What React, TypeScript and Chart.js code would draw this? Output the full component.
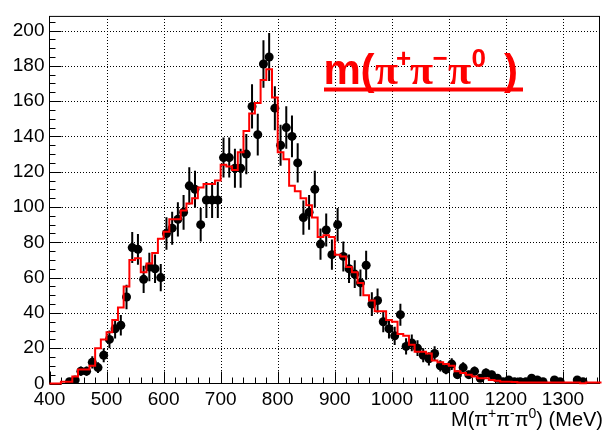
import React, { useEffect, useRef } from "react";
import { Chart, registerables } from "chart.js";

Chart.register(...registerables);

// Histogram binning in MeV: 10 MeV bins starting at 400 MeV
const BIN_START = 400;
const BIN_WIDTH = 10;

// Observed events per bin (bin centres 405, 415, ... 1365 MeV)
const dataCounts = [
  0, 0, 0, 1, 2, 7, 7, 12, 9, 16,
  25, 31, 33, 49, 77, 76, 59, 66, 65, 60,
  85, 88, 93, 97, 112, 110, 90, 104, 104, 104,
  128, 128, 122, 122, 130, 157, 141, 181, 185, 156,
  135, 145, 140, 125, 94, 97, 110, 79, 87, 73,
  90, 72, 65, 62, 57, 67, 45, 47, 35, 31,
  27, 39, 21, 23, 20, 16, 14, 17, 10, 8,
  11, 5, 9, 5, 7, 3, 6, 5, 3, 1,
  2, 1, 1, 1, 3, 2, 1, 0, 2, 1,
  0, 0, 2, 1, 0, 0, 0,
];

// Simulated spectrum, same binning
const mcCounts = [
  0, 0, 1, 1, 4, 8, 8, 10, 20, 25,
  29, 36, 43, 55, 70, 71, 63, 68, 74, 82,
  86, 93, 93, 98, 102, 105, 111, 113, 113, 115,
  124, 123, 121, 131, 143, 153, 159, 172, 178, 162,
  131, 127, 112, 109, 105, 101, 94, 83, 84, 83,
  73, 72, 66, 63, 57, 50, 47, 41, 41, 36,
  35, 28, 27, 22, 18, 18, 17, 13, 12, 11,
  10, 7, 6, 5, 4, 3, 3, 2, 1.5, 1,
  1, 0.8, 0.6, 0.5, 0.5, 0.5, 0.5, 0.5, 0.5, 0.5,
  0.5, 0.5, 0.5, 0.1, 0.5, 0.5, 0.5,
];

// Axis labels
const xTickValues = [400, 500, 600, 700, 800, 900, 1000, 1100, 1200, 1300];
const yTickValues = [0, 20, 40, 60, 80, 100, 120, 140, 160, 180, 200];

const X_MIN = 400;
const X_MAX = 1364;
const Y_MIN = 0;
const Y_MAX = 208;

const FONT = "'Liberation Sans', Arial, Helvetica, sans-serif";
const SERIF = "'Liberation Serif', 'DejaVu Serif', serif";

type Seg = { t: string; font: string; x?: number; dy?: number };

// ROOT-style pad: dotted grid, frame, inward ticks, error bars, titles
const rootFrame = {
  id: "rootFrame",
  beforeDatasetsDraw(chart: any) {
    const { ctx, chartArea: a, scales } = chart;
    const xs = scales.x;
    const ys = scales.y;
    ctx.save();
    ctx.strokeStyle = "#000000";
    ctx.lineWidth = 1;

    // dotted grid at the labelled values (1 px dots, pixel aligned)
    ctx.setLineDash([1, 2]);
    ctx.beginPath();
    for (const v of xTickValues) {
      if (v === X_MIN) continue;
      const px = Math.round(xs.getPixelForValue(v)) + 0.5;
      ctx.moveTo(px, Math.floor(a.bottom));
      ctx.lineTo(px, a.top);
    }
    for (const v of yTickValues) {
      if (v === Y_MIN) continue;
      const py = Math.round(ys.getPixelForValue(v)) + 0.5;
      ctx.moveTo(Math.ceil(a.left), py);
      ctx.lineTo(a.right, py);
    }
    ctx.stroke();
    ctx.setLineDash([]);

    // frame
    ctx.strokeRect(a.left, a.top, a.right - a.left, a.bottom - a.top);

    // ticks pointing into the frame
    ctx.beginPath();
    for (let v = X_MIN; v <= X_MAX; v += 20) {
      const major = v % 100 === 0;
      const px = Math.round(xs.getPixelForValue(v)) + 0.5;
      ctx.moveTo(px, a.bottom);
      ctx.lineTo(px, a.bottom - (major ? 12 : 6));
    }
    for (let v = Y_MIN; v <= Y_MAX; v += 5) {
      const major = v % 20 === 0;
      const py = Math.round(ys.getPixelForValue(v)) + 0.5;
      ctx.moveTo(a.left, py);
      ctx.lineTo(a.left + (major ? 12 : 6), py);
    }
    ctx.stroke();

    // Poisson error bars on the data points
    ctx.lineWidth = 2;
    ctx.beginPath();
    dataCounts.forEach((n, i) => {
      if (n <= 0) return;
      const c = BIN_START + BIN_WIDTH * (i + 0.5);
      if (c > X_MAX) return;
      const e = Math.sqrt(n);
      const px = xs.getPixelForValue(c);
      ctx.moveTo(px, ys.getPixelForValue(Math.max(0, n - e)));
      ctx.lineTo(px, ys.getPixelForValue(n + e));
    });
    ctx.stroke();
    ctx.restore();
  },
  afterDraw(chart: any) {
    const { ctx } = chart;
    ctx.save();
    ctx.textBaseline = "alphabetic";
    ctx.textAlign = "left";

    // axis title, right aligned
    const normal = `20px ${FONT}`;
    const sup = `14px ${FONT}`;
    const title: Seg[] = [
      { t: "M(π", font: normal },
      { t: "+", font: sup, dy: -8 },
      { t: "π", font: normal },
      { t: "-", font: sup, dy: -8 },
      { t: "π", font: normal },
      { t: "0", font: sup, dy: -8 },
      { t: ") (MeV)", font: normal },
    ];
    let w = 0;
    title.forEach((s) => {
      ctx.font = s.font;
      w += ctx.measureText(s.t).width;
    });
    let tx = 603 - w;
    ctx.fillStyle = "#000";
    title.forEach((s) => {
      ctx.font = s.font;
      ctx.fillText(s.t, tx, 426 + (s.dy || 0));
      tx += ctx.measureText(s.t).width;
    });

    // large red label
    ctx.fillStyle = "#ff0000";
    const big = `bold 42px ${FONT}`;
    const pi = `bold 42px ${SERIF}`;
    const small = `bold 26px ${FONT}`;
    const base = 83.5;
    const supBase = 66.5;
    const label: Seg[] = [
      { t: "m", font: big, x: 323.5 },
      { t: "(", font: big, x: 360.5 },
      { t: "π", font: pi, x: 375 },
      { t: "+", font: small, x: 396, dy: supBase - base },
      { t: "π", font: pi, x: 410 },
      { t: "\u2212", font: small, x: 432.5, dy: supBase - base },
      { t: "π", font: pi, x: 448 },
      { t: "0", font: small, x: 471.5, dy: supBase - base },
      { t: ")", font: big, x: 504 },
    ];
    label.forEach((s) => {
      ctx.font = s.font;
      ctx.fillText(s.t, s.x as number, base + (s.dy || 0));
    });
    ctx.fillRect(324, 87.5, 199, 4);
    ctx.restore();
  },
};

export default function App() {
  const canvasRef = useRef<HTMLCanvasElement | null>(null);

  useEffect(() => {
    const canvas = canvasRef.current;
    if (!canvas) return;

    const points = dataCounts
      .map((n, i) => ({ x: BIN_START + BIN_WIDTH * (i + 0.5), y: n }))
      .filter((p) => p.y > 0);

    const steps = mcCounts.map((n, i) => ({ x: BIN_START + BIN_WIDTH * i, y: n }));
    steps.push({ x: BIN_START + BIN_WIDTH * mcCounts.length, y: mcCounts[mcCounts.length - 1] });

    const chart = new Chart(canvas, {
      type: "scatter",
      data: {
        datasets: [
          {
            type: "line",
            label: "MC",
            data: steps,
            showLine: true,
            stepped: "before",
            borderColor: "#ff0000",
            borderWidth: 2,
            pointRadius: 0,
            fill: false,
            order: 0,
            clip: 2,
          } as any,
          {
            type: "scatter",
            label: "Data",
            data: points,
            pointRadius: 4.5,
            pointBackgroundColor: "#000",
            pointBorderWidth: 0,
            order: 1,
          } as any,
        ],
      },
      options: {
        animation: false,
        responsive: false,
        devicePixelRatio: 1,
        layout: { padding: { left: 0, right: 0.5, top: 5.5, bottom: 0 } },
        plugins: { legend: { display: false }, tooltip: { enabled: false } },
        scales: {
          x: {
            type: "linear",
            min: X_MIN,
            max: X_MAX,
            grid: { display: false, drawTicks: false },
            border: { display: false },
            ticks: {
              includeBounds: false,
              autoSkip: false,
              maxRotation: 0,
              padding: 5,
              color: "#000",
              font: { family: FONT, size: 19 },
              callback: (v: any) => String(v),
            },
            afterBuildTicks: (s: any) => {
              s.ticks = xTickValues.map((v) => ({ value: v }));
            },
            afterFit: (s: any) => {
              s.height = 50.5;
            },
          },
          y: {
            type: "linear",
            min: Y_MIN,
            max: Y_MAX,
            grid: { display: false, drawTicks: false },
            border: { display: false },
            ticks: {
              includeBounds: false,
              autoSkip: false,
              padding: 5,
              color: "#000",
              font: { family: FONT, size: 19 },
              callback: (v: any) => String(v),
            },
            afterBuildTicks: (s: any) => {
              s.ticks = yTickValues.map((v) => ({ value: v }));
            },
            afterFit: (s: any) => {
              s.width = 49.5;
            },
          },
        },
      } as any,
      plugins: [rootFrame],
    });

    return () => chart.destroy();
  }, []);

  return (
    <div style={{ position: "absolute", left: 0, top: 0, width: 604, height: 434, background: "#fff" }}>
      <canvas ref={canvasRef} width={604} height={434} style={{ display: "block" }} />
    </div>
  );
}
